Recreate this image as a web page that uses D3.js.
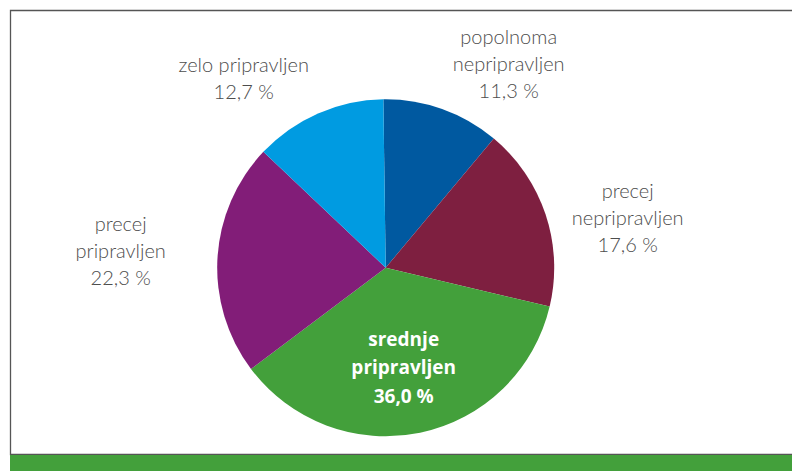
<html>
<head>
<script src="https://cdnjs.cloudflare.com/ajax/libs/d3/7.8.5/d3.min.js"></script>
<style>
body { margin: 0; background: #fff; }
.frame { stroke: #555; stroke-width: 1.3px; fill: none; }
.band { fill: #43a03b; }
.lbl { font-family: Lato, "Open Sans", sans-serif; font-weight: 300; font-size: 20px; fill: #4d4d4d; }
.lbl-in { font-family: "Open Sans", Lato, sans-serif; font-weight: 700; font-size: 19px; fill: #fff; }
</style>
</head>
<body>
<script>
// anketa: pripravljenost
var categories = ["popolnoma nepripravljen", "precej nepripravljen", "srednje pripravljen", "precej pripravljen", "zelo pripravljen"];
var values = [11.3, 17.6, 36.0, 22.3, 12.7];
var colors = ["#0059a0", "#7e1f40", "#43a03b", "#821d78", "#009be1"];
var labelLines = [
	["popolnoma", "nepripravljen", "11,3 %"],
	["precej", "nepripravljen", "17,6 %"],
	["srednje", "pripravljen", "36,0 %"],
	["precej", "pripravljen", "22,3 %"],
	["zelo pripravljen", "12,7 %"]
];

var width = 792, height = 471;
var cx = 385.7, cy = 267.7, radius = 168.5;

var svg = d3.select("body").append("svg")
	.attr("width", width)
	.attr("height", height)

// frame
svg.append("path")
	.attr("class", "frame")
	.attr("d", "M792,10.5 H10.5 V454.5 H792")

svg.append("rect")
	.attr("class", "band")
	.attr("x", 10)
	.attr("y", 455)
	.attr("width", width - 10)
	.attr("height", height - 455)

var start = -0.8 * Math.PI / 180;
var pie = d3.pie()
	.sort(null)
	.startAngle(start)
	.endAngle(2 * Math.PI + start)
	.value(function(d) { return d; })

var arc = d3.arc().innerRadius(0).outerRadius(radius)

var pieGroup = svg.append("g")
	.attr("transform", "translate(" + cx + "," + cy + ")")

var arcs = pie(values)

pieGroup.selectAll("path")
	.data(arcs)
	.enter().append("path")
	.attr("d", arc)
	.style("fill", function(d, i) { return colors[i]; })

// label anchor points (first baseline), relative to pie centre
var labelPos = [
	{x: 123, y: -224},
	{x: 242, y: -70},
	{x: 18, y: 78},
	{x: -265, y: -37},
	{x: -142, y: -196}
];
var lineGap = 27;

var labels = svg.append("g")
	.attr("transform", "translate(" + cx + "," + cy + ")")

labels.selectAll("text")
	.data(arcs)
	.enter().append("text")
	.attr("class", function(d, i) { return i === 2 ? "lbl-in" : "lbl"; })
	.attr("text-anchor", "middle")
	.attr("transform", function(d, i) { return "translate(" + labelPos[i].x + "," + labelPos[i].y + ")"; })
	.each(function(d, i) {
		var t = d3.select(this)
		labelLines[i].forEach(function(s, k) {
			t.append("tspan")
				.attr("x", 0)
				.attr("y", k * (i === 2 ? 28.5 : lineGap))
				.text(s)
		})
	})
</script>
</body>
</html>
